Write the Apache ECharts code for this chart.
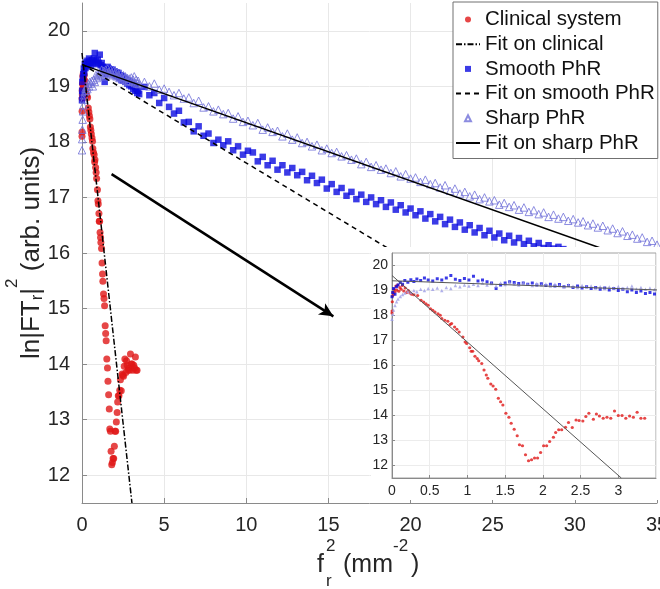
<!DOCTYPE html>
<html><head><meta charset="utf-8">
<script src="https://cdn.jsdelivr.net/npm/echarts@6/dist/echarts.min.js"></script>
<style>html,body{margin:0;padding:0;background:#fff}#c{width:660px;height:589px}</style>
</head><body><div id="c"></div>
<script>
// ---- data ----
const clinical = [
[0.000,18.10],[0.001,18.18],[0.004,18.55],[0.008,18.78],[0.014,18.92],[0.021,18.85],[0.030,19.05],[0.040,18.95],[0.051,19.18],[0.063,19.02],[0.076,19.22],[0.090,18.97],[0.105,19.12],[0.121,19.05],[0.138,19.2],[0.156,18.98],[0.175,19.1],[0.195,18.92],[0.216,19.0],[0.238,18.9],[0.261,18.85],
[0.29,18.83],[0.34,18.80],[0.385,18.61],[0.42,18.54],[0.45,18.47],[0.48,18.41],[0.51,18.27],[0.54,18.21],[0.57,18.14],[0.61,18.07],[0.64,18.01],[0.66,17.88],[0.70,17.81],[0.74,17.77],[0.77,17.64],[0.79,17.68],[0.83,17.54],[0.86,17.45],[0.89,17.34],[0.94,17.14],[0.97,16.94],[0.99,16.88],[1.03,16.71],
[1.05,16.57],[1.07,16.57],[1.10,16.37],[1.13,16.28],[1.15,16.19],[1.19,16.08],[1.22,15.82],[1.25,15.62],[1.27,15.49],[1.31,15.26],[1.34,15.18],[1.375,15.05],[1.41,14.69],[1.44,14.55],[1.47,14.42],[1.51,14.09],[1.55,13.93],[1.58,13.69],[1.62,13.45],[1.66,13.19],[1.69,12.83],[1.73,12.79],[1.77,12.43],[1.81,12.19],[1.85,12.23],[1.89,12.30],[1.93,12.30],[1.97,12.52],[2.01,12.79],[2.05,12.79],[2.09,12.96],[2.14,13.13],[2.17,13.32],[2.21,13.43],[2.25,13.43],[2.30,13.53],[2.34,13.72],[2.39,13.52],[2.44,13.82],[2.48,13.80],[2.53,13.78],[2.57,13.96],[2.61,14.09],[2.67,13.85],[2.71,14.06],[2.75,13.98],[2.80,13.89],[2.85,13.93],[2.90,13.89],[2.95,14.18],[3.00,14.00],[3.05,14.00],[3.10,13.89],[3.15,13.98],[3.20,13.93],[3.25,14.13],[3.30,13.89],[3.35,13.89]
];
const phrX = [
0,0.01,0.02,0.04,0.06,0.08,0.11,0.14,0.17,0.21,0.25,0.29,0.33,0.38,0.43,0.48,
0.54,0.60,0.66,0.72,0.78,0.84,0.90,0.96,1.02,1.08,1.14,1.20,1.26,1.32,1.38,1.44,1.50,1.56,1.62,1.68,1.74,1.80,1.86,1.92,1.98,2.04,2.10,2.16,2.22,2.28,2.34,2.40,2.46,2.52,2.58,2.64,2.70,2.76,2.82,2.88,2.94,3.00,3.06,3.12,3.18,3.24,3.30,3.36,3.42,3.48,
3.8,4.1,4.4,4.7,5.0,5.3,5.6,5.9,6.2,6.5,6.8,7.1,7.4,7.7,8.0,8.3,8.6,8.9,9.2,9.5,9.8,10.1,10.4,10.7,11.0,11.3,11.6,11.9,12.2,12.5,12.8,13.1,13.4,13.7,14.0,14.3,14.6,14.9,15.2,15.5,15.8,16.1,16.4,16.7,17.0,17.3,17.6,17.9,18.2,18.5,18.8,19.1,19.4,19.7,20.0,20.3,20.6,20.9,21.2,21.5,21.8,22.1,22.4,22.7,23.0,23.3,23.6,23.9,24.2,24.5,24.8,25.1,25.4,25.7,26.0,26.3,26.6,26.9,27.2,27.5,27.8,28.1,28.4,28.7,29.0,29.3,29.6,29.9,30.2,30.5,30.8,31.1,31.4,31.7,32.0,32.3,32.6,32.9,33.2,33.5,33.8,34.1,34.4,34.7,35.0
];
const smoothY = [
18.75,18.92,19.08,18.85,19.15,19.22,19.32,19.25,19.4,19.33,19.43,19.36,19.46,19.4,19.5,19.42,
19.38,19.47,19.42,19.5,19.6,19.45,19.4,19.48,19.42,19.57,19.38,19.42,19.35,19.3,19.08,19.22,19.3,19.35,19.32,19.28,19.3,19.25,19.3,19.22,19.27,19.2,19.25,19.18,19.24,19.15,19.2,19.12,19.18,19.1,19.15,19.08,19.12,19.05,19.1,19.02,19.08,19.0,19.05,18.95,19.02,18.92,18.98,18.88,18.92,18.86,
18.99,18.84,18.88,18.70,18.79,18.63,18.51,18.56,18.35,18.36,18.19,18.28,18.11,18.15,17.98,18.04,17.94,18.01,17.85,17.92,17.77,17.84,17.81,17.65,17.73,17.58,17.66,17.5,17.58,17.45,17.53,17.4,17.46,17.31,17.39,17.26,17.32,17.16,17.24,17.1,17.17,17.03,17.1,16.97,17.05,16.92,17.0,16.88,16.95,16.83,16.91,16.78,16.86,16.73,16.8,16.68,16.75,16.62,16.7,16.57,16.65,16.52,16.6,16.47,16.55,16.42,16.5,16.37,16.45,16.32,16.4,16.28,16.35,16.23,16.31,16.19,16.27,16.16,16.22,16.12,16.18,16.09,16.14,16.08,16.11,16.07
];
const sharpY = [
17.85,18.05,18.22,18.4,18.55,18.66,18.76,18.84,18.9,18.96,18.92,19.0,18.95,19.05,19.0,19.08,
19.05,19.1,19.0,19.12,19.08,19.2,19.15,19.22,19.18,19.25,19.2,19.3,19.22,19.28,19.18,19.3,19.24,19.32,19.26,19.22,19.3,19.25,19.2,19.28,19.22,19.26,19.18,19.25,19.2,19.15,19.23,19.17,19.12,19.2,19.14,19.18,19.1,19.15,19.08,19.14,19.1,19.16,19.08,19.12,19.18,19.06,19.12,19.05,19.1,19.04,
19.08,19.0,19.05,18.94,18.96,18.9,18.84,18.88,18.78,18.8,18.7,18.74,18.62,18.64,18.55,18.58,18.5,18.52,18.42,18.46,18.36,18.38,18.3,18.34,18.22,18.26,18.18,18.2,18.1,18.15,18.04,18.08,17.98,18.0,17.92,17.95,17.85,17.88,17.8,17.82,17.74,17.76,17.68,17.7,17.6,17.64,17.55,17.58,17.5,17.52,17.44,17.47,17.38,17.42,17.34,17.36,17.28,17.32,17.24,17.26,17.18,17.22,17.12,17.16,17.07,17.1,17.02,17.05,16.97,17.0,16.93,16.95,16.87,16.9,16.83,16.86,16.78,16.82,16.74,16.77,16.7,16.73,16.65,16.69,16.62,16.65,16.58,16.61,16.55,16.57,16.5,16.53,16.46,16.49,16.41,16.44,16.36,16.39,16.31,16.33,16.26,16.28,16.2,16.22,16.15
];
const clinicalFit = [[0,19.6],[3.04,11.5]];
const smoothFit = [[0,19.4],[35,13.17]];
const sharpFit = [[0,19.39],[35,15.73]];
const arrowLine = [[1.8,17.42],[15.3,14.86]];
const yTicks = [12,13,14,15,16,17,18,19,20];
const names = ['Clinical system','Fit on clinical','Smooth PhR','Fit on smooth PhR','Sharp PhR','Fit on sharp PhR'];

const smooth = phrX.map((x,i)=>[x,smoothY[i]]).filter(p=>p[1]!==undefined);
const sharp = phrX.map((x,i)=>[x,sharpY[i]]).filter(p=>p[1]!==undefined);

const F = "'Liberation Sans', Arial, Helvetica, sans-serif";
const RED = '#e01818', BLUE = '#0a0ae0', LAV = '#6f6fd8', LAV2 = '#9d9de6';
const axisGray = '#8a8a8a', gridGray = '#e8e8e8', txt = '#262626';

const chart = echarts.init(document.getElementById('c'));
chart.setOption({
  animation: false,
  grid: [
    {left: 82, right: 3, top: 3, bottom: 86, containLabel: false, outerBoundsMode: 'none'},
    {left: 392, right: 4, top: 253, bottom: 111, show: true, z: 15, containLabel: false, outerBoundsMode: 'none',
     backgroundColor: '#fff', borderColor: '#a0a0a0', borderWidth: 1}
  ],
  graphic: [
    {type: 'rect', z: 10, shape: {x: 371, y: 247, width: 289, height: 253}, style: {fill: '#fff'}},
    {type: 'text', z: 30, x: 317, y: 565, style: {text: 'f', font: '25px ' + F, fill: txt, verticalAlign: 'middle'}},
    {type: 'text', z: 30, x: 326, y: 546, style: {text: '2', font: '17px ' + F, fill: txt, verticalAlign: 'middle'}},
    {type: 'text', z: 30, x: 326, y: 581, style: {text: 'r', font: '17px ' + F, fill: txt, verticalAlign: 'middle'}},
    {type: 'text', z: 30, x: 343, y: 565, style: {text: '(mm', font: '25px ' + F, fill: txt, verticalAlign: 'middle'}},
    {type: 'text', z: 30, x: 393, y: 546, style: {text: '-2', font: '17px ' + F, fill: txt, verticalAlign: 'middle'}},
    {type: 'text', z: 30, x: 411, y: 565, style: {text: ')', font: '25px ' + F, fill: txt, verticalAlign: 'middle'}}
  ],
  legend: {
    data: [
      {name: names[0], icon: 'circle'},
      {name: names[1], itemStyle: {opacity: 0}},
      {name: names[2], icon: 'path://M0,0L6,0L6,6L0,6Z'},
      {name: names[3], itemStyle: {opacity: 0}},
      {name: names[4], icon: 'path://M3,0L6,6L0,6Z'},
      {name: names[5], itemStyle: {opacity: 0}}
    ],
    orient: 'vertical', left: 453, top: 2, symbolKeepAspect: true,
    padding: [7, 3, 5, 2], itemGap: 3.7, itemWidth: 24, itemHeight: 6,
    backgroundColor: '#fff', borderColor: '#707070', borderWidth: 1,
    textStyle: {fontSize: 20.5, color: '#111', fontFamily: F},
    selectedMode: false
  },
  xAxis: [
    {gridIndex: 0, type: 'value', min: 0, max: 35, interval: 5,
     axisLine: {lineStyle: {color: axisGray}}, axisTick: {inside: true, length: 5, lineStyle: {color: axisGray}},
     axisLabel: {fontSize: 20, color: txt, fontFamily: F, margin: 12},
     splitLine: {show: true, lineStyle: {color: gridGray}}},
    {gridIndex: 1, type: 'value', min: 0, max: 3.5, interval: 0.5, z: 20,
     axisLine: {lineStyle: {color: axisGray}}, axisTick: {inside: true, length: 3, lineStyle: {color: axisGray}},
     axisLabel: {fontSize: 14, color: txt, fontFamily: F, margin: 6, showMaxLabel: false},
     splitLine: {show: true, lineStyle: {color: '#ececec'}}}
  ],
  yAxis: [
    {gridIndex: 0, type: 'value', min: 11.5, max: 20.5,
     name: 'ln|FT{s|r}|{p|2} (arb. units)', nameLocation: 'middle', nameGap: 22, nameMoveOverlap: false,
     nameTextStyle: {fontSize: 26, color: txt, fontFamily: F, lineHeight: 56,
       rich: {s: {fontSize: 17, fontFamily: F, color: txt, padding: [11, 0, 0, 0]},
              p: {fontSize: 17, fontFamily: F, color: txt, verticalAlign: 'top', lineHeight: 14}}},
     axisLine: {show: true, lineStyle: {color: axisGray}},
     axisTick: {show: true, inside: true, length: 5, customValues: yTicks, lineStyle: {color: axisGray}},
     axisLabel: {fontSize: 20, color: txt, fontFamily: F, margin: 12, customValues: yTicks},
     splitLine: {show: true, lineStyle: {color: gridGray}}},
    {gridIndex: 1, type: 'value', min: 11.5, max: 20.5, z: 20,
     axisLine: {show: true, lineStyle: {color: axisGray}},
     axisTick: {show: true, inside: true, length: 3, customValues: yTicks, lineStyle: {color: axisGray}},
     axisLabel: {fontSize: 14, color: txt, fontFamily: F, margin: 4, customValues: yTicks},
     splitLine: {show: true, lineStyle: {color: '#ececec'}}}
  ],
  series: [
    {name: names[0], type: 'scatter', data: clinical, symbol: 'circle', symbolSize: 7, itemStyle: {color: RED}},
    {name: names[1], type: 'line', data: clinicalFit, symbol: 'none', lineStyle: {color: '#000', width: 1.5, type: [6, 2, 1.5, 2]}, itemStyle: {color: '#000'}},
    {name: names[2], type: 'scatter', data: smooth, symbol: 'rect', symbolSize: 6.5, itemStyle: {color: BLUE}},
    {name: names[3], type: 'line', data: smoothFit, symbol: 'none', lineStyle: {color: '#000', width: 1.5, type: [5, 4]}, itemStyle: {color: '#000'}},
    {name: names[4], type: 'scatter', data: sharp, symbol: 'triangle', symbolSize: 7.5,
     itemStyle: {color: 'rgba(255,255,255,0)', borderColor: LAV, borderWidth: 1}},
    {name: names[5], type: 'line', data: sharpFit, symbol: 'none', lineStyle: {color: '#000', width: 1.5, type: 'solid'}, itemStyle: {color: '#000'},
     markLine: {silent: true, symbol: ['none', 'arrow'], symbolSize: [10, 14], label: {show: false},
       lineStyle: {color: '#000', width: 2.5, type: 'solid'},
       data: [[{coord: arrowLine[0]}, {coord: arrowLine[1]}]]}},
    // inset
    {name: 'inset-clinical', type: 'scatter', xAxisIndex: 1, yAxisIndex: 1, z: 20, data: clinical, symbol: 'circle', symbolSize: 3.2, itemStyle: {color: RED}},
    {name: 'inset-smooth', type: 'scatter', xAxisIndex: 1, yAxisIndex: 1, z: 20, data: smooth, symbol: 'rect', symbolSize: 3, itemStyle: {color: BLUE}},
    {name: 'inset-sharp', type: 'scatter', xAxisIndex: 1, yAxisIndex: 1, z: 20, data: sharp, symbol: 'triangle', symbolSize: 3.5, itemStyle: {color: LAV2}},
    {name: 'inset-fit-clinical', type: 'line', xAxisIndex: 1, yAxisIndex: 1, z: 21, data: clinicalFit, symbol: 'none', lineStyle: {color: '#555', width: 1}},
    {name: 'inset-fit-sharp', type: 'line', xAxisIndex: 1, yAxisIndex: 1, z: 21, data: sharpFit, symbol: 'none', lineStyle: {color: '#555', width: 1}}
  ]
});
</script></body></html>
